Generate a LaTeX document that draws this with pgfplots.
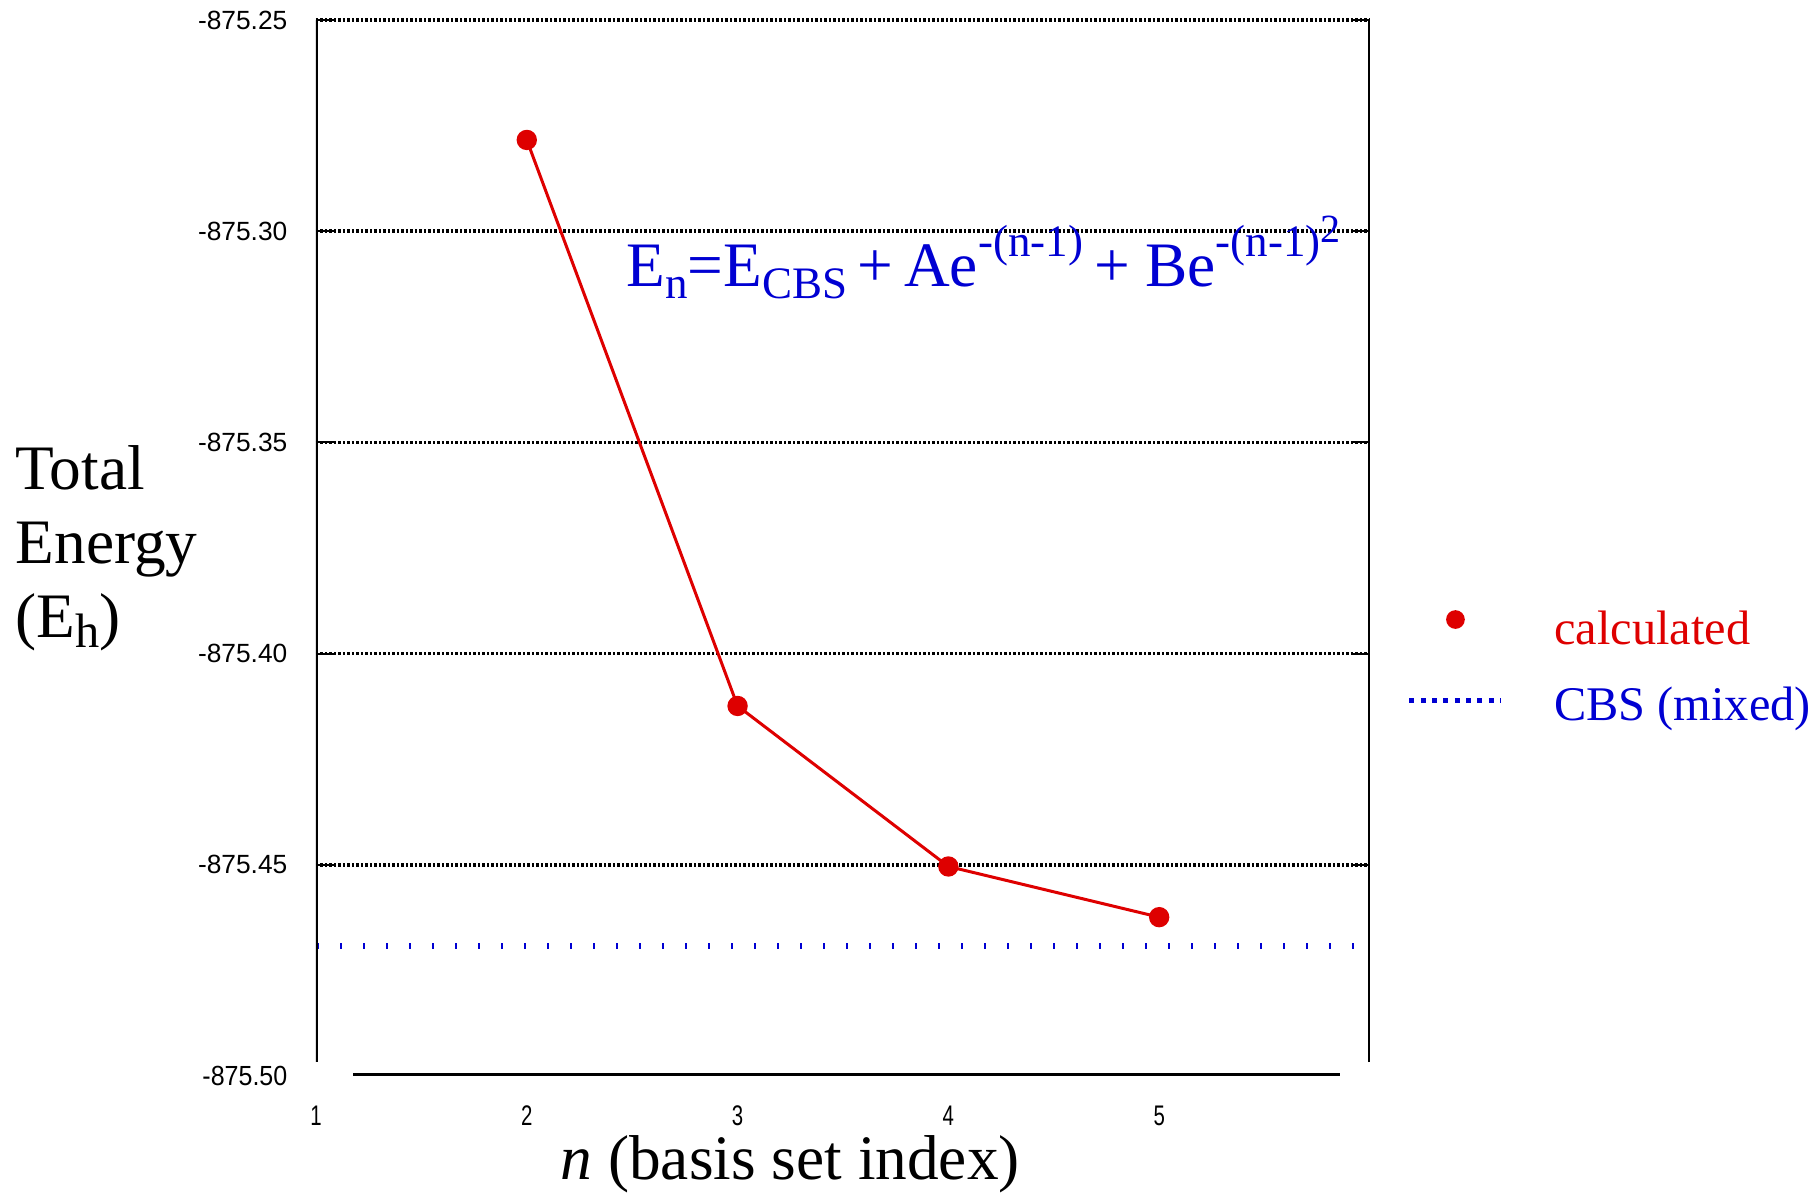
\documentclass[border=0pt]{standalone}
\usepackage{fontspec}
\setmainfont{Liberation Serif}
\newfontfamily\arialf{Liberation Sans}
\usepackage{graphicx}
\usepackage{pgfplots}
\pgfplotsset{compat=1.18}
\definecolor{cred}{RGB}{222,0,0}
\definecolor{cblue}{RGB}{0,0,210}
\newcommand\sub[1]{\raisebox{-3.6pt}{\fontsize{13.5}{13.5}\selectfont #1}}
\newcommand\sups[1]{\raisebox{9pt}{\fontsize{13.5}{13.5}\selectfont #1}}
\newcommand\xl[1]{\scalebox{0.72}[1]{#1}}
\begin{document}
\begin{tikzpicture}
\begin{axis}[
  at={(0,0)}, anchor=south west,
  scale only axis, width=316.2pt, height=316.8pt,
  xmin=1, xmax=6, ymin=-875.5, ymax=-875.25,
  axis line style={draw=none},
  xtick={1,2,3,4,5},
  xticklabels={\xl{1},\xl{2},\xl{3},\xl{4},\xl{5}},
  xtick style={draw=none},
  ytick={-875.45,-875.40,-875.35,-875.30,-875.25},
  yticklabels={-875.45,-875.40,-875.35,-875.30,-875.25},
  extra y ticks={-875.5},
  extra y tick labels={\scalebox{0.95}[1.05]{-875.50}},
  extra y tick style={major tick length=0pt, grid=none},
  ymajorgrids,
  major grid style={black, line width=1.1pt, dash pattern=on 0.75pt off 0.6pt},
  ytick pos=both, yticklabel pos=left, tick align=inside,
  major tick length=5.3pt,
  ytick style={black, line width=0.6pt},
  yticklabel style={font=\arialf\fontsize{7.9}{7.9}\selectfont, inner sep=0pt, xshift=-8.4pt},
  xticklabel style={font=\arialf\fontsize{8.5}{8.5}\selectfont, inner sep=0pt, anchor=center, yshift=-12pt},
  every axis y label/.style={at={(axis description cs:-0.2856,0.5)}, anchor=west, align=left, inner sep=0pt, font=\fontsize{19}{22.2}\selectfont},
  ylabel={Total\\Energy\\(E\raisebox{-3pt}{\fontsize{14.5}{14.5}\selectfont h})},
  every axis x label/.style={at={(axis description cs:0.45,0)}, anchor=base, yshift=-31.2pt, inner sep=0pt, font=\fontsize{19}{19}\selectfont},
  xlabel={\textit{n} (basis set index)},
  legend style={at={(1.0351,0.4411)}, anchor=north west, draw=none, fill=none, inner sep=0pt, outer sep=0pt,
    font=\fontsize{14.5}{14.5}\selectfont, row sep=11.3pt, column sep=15.1pt, nodes={inner sep=0pt}},
  legend cell align=left,
]
\addplot[cred, line width=0.9pt, mark=*, mark size=2.6pt, mark options={solid, fill=cred, draw=cred}, forget plot]
  coordinates {(2,-875.2784) (3,-875.4124) (4,-875.4504) (5,-875.4624)};
\addplot[cblue, line width=1.6pt, dash pattern=on 0.7pt off 6.2pt, forget plot]
  coordinates {(1.005,-875.4692) (5.93,-875.4692)};
\addlegendimage{legend image code/.code={\fill[cred] (13.8pt,3.1pt) circle (2.6pt);}}
\addlegendentry{\textcolor{cred}{calculated}}
\addlegendimage{legend image code/.code={\draw[cblue, line width=1.5pt, dash pattern=on 1.5pt off 1.9pt] (0pt,1.6pt) -- (27.6pt,1.6pt);}}
\addlegendentry{\textcolor{cblue}{CBS (mixed)}}
% frame pieces
\draw[black, line width=1.2pt] (axis cs:1,-875.4967) -- (axis cs:1,-875.25);
\draw[black, line width=1.2pt] (axis cs:6,-875.4967) -- (axis cs:6,-875.25);
\draw[black, line width=0.9pt] ([yshift=0.45pt]axis cs:1.176,-875.5) -- ([yshift=0.45pt]axis cs:5.858,-875.5);
\draw[black, line width=0.8pt, dash pattern=on 0.5pt off 0.5pt] ([yshift=-0.4pt]axis cs:1.176,-875.5) -- ([yshift=-0.4pt]axis cs:5.858,-875.5);
\node[anchor=base west, inner sep=0pt, text=cblue, font=\fontsize{19}{19}\selectfont] at (axis cs:2.47,-875.313)
  {E\sub{n}=E\sub{CBS}\hspace{3.2pt}+\hspace{3.2pt}Ae\sups{-(n-1)}\hspace{3.5pt}+\hspace{4.5pt}Be\sups{-(n-1)\raisebox{4pt}{\fontsize{12}{12}\selectfont 2}}};
\end{axis}
\pgfresetboundingbox
\path[use as bounding box] (-94.8pt,-35.7pt) rectangle (449.4pt,322.8pt);
\end{tikzpicture}
\end{document}
